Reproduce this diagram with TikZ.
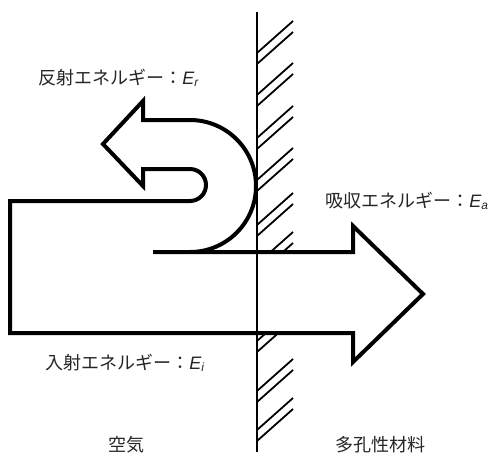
\documentclass[tikz,border=0pt]{standalone}
\usepackage{fontspec}
\newfontfamily\jp{Noto Sans CJK JP}
\newfontfamily\lat{Liberation Sans}
\newcommand{\Esub}[1]{{\lat\itshape E}\textsubscript{\lat\itshape #1}}
\begin{document}
\begin{tikzpicture}[x=0.5pt,y=-0.5pt,
  arrowline/.style={line width=2pt, line join=miter},
  wallline/.style={line width=1.4pt},
  hatchline/.style={line width=0.9pt},
  lbl/.style={font=\jp\fontsize{9pt}{10pt}\selectfont, text=black!85, inner sep=0pt, anchor=west}]
\useasboundingbox (0,0) rectangle (493,452);
% hatching of the porous material surface
\begin{scope}
  \clip (257,12) rectangle (300,252) (257,333) rectangle (300,452);
  \foreach \r in {21,63,106,148,193,232,309,359,398}{
    \draw[hatchline] (257,\r+32) -- (293,\r);
    \draw[hatchline] (257,\r+43) -- (293,\r+11);
  }
\end{scope}
% wall
\coordinate (wtop) at (257,12);
\coordinate (wbot) at (257,452);
\draw[wallline] (wtop) -- (wbot);
% arrows (incident, transmitted, reflected)
\draw[arrowline] (153,252) -- (353,252) -- (353,226) -- (423,294) -- (353,362) -- (353,333)
  -- (10,333) -- (10,201) -- (190,201) arc[start angle=90,end angle=-90,radius=16]
  -- (143,169) -- (143,186) -- (103,144) -- (143,101) -- (143,120) -- (190,120)
  arc[start angle=-90,end angle=90,radius=66];
% labels
\node[lbl] (refl) at (38,78) {反射エネルギー：\Esub{r}};
\node[lbl] (absb) at (325,201) {吸収エネルギー：\Esub{a}};
\node[lbl] (inc) at (45,363) {入射エネルギー：\Esub{i}};
\node[lbl, anchor=center] (air) at (126,445) {空気};
\node[lbl, anchor=center] (mat) at (380,445) {多孔性材料};
\end{tikzpicture}
\end{document}
